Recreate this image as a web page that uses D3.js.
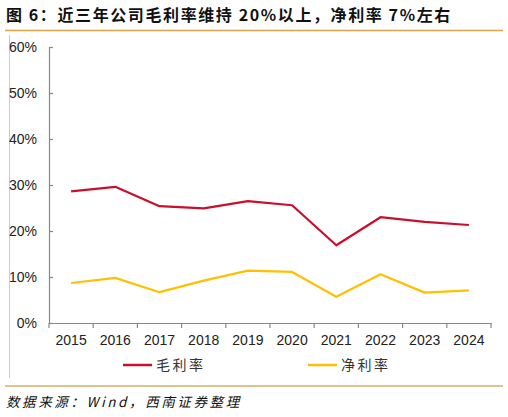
<!DOCTYPE html>
<html>
<head>
<meta charset="utf-8">
<script src="https://cdn.jsdelivr.net/npm/d3@7"></script>
<style>
  body { margin: 0; background: #fff; }
  svg { display: block; }
</style>
</head>
<body>
<svg id="chart" width="508" height="417"></svg>
<script>
// data
var years = ["2015", "2016", "2017", "2018", "2019", "2020", "2021", "2022", "2023", "2024"];
var grossMargin = [28.6, 29.6, 25.4, 24.9, 26.5, 25.6, 16.9, 23.0, 22.0, 21.3];
var netMargin = [8.7, 9.8, 6.7, 9.2, 11.4, 11.1, 5.7, 10.6, 6.6, 7.1];
var yTicks = [0, 10, 20, 30, 40, 50, 60];
var seriesNames = ["毛利率", "净利率"];

var svg = d3.select("#chart");
var cjk = "'Noto Sans CJK SC', sans-serif";

var margin = { top: 47, right: 17, bottom: 94, left: 49 };
var width = 508 - margin.left - margin.right;
var height = 417 - margin.top - margin.bottom;

// title + rules
svg.append("text")
    .attr("x", 6).attr("y", 21)
    .style("font-family", cjk).style("font-size", "16px").style("font-weight", "bold")
    .style("letter-spacing", "1.6px")
    .attr("fill", "#111")
    .text("图 6：近三年公司毛利率维持 20%以上，净利率 7%左右");

svg.append("line").attr("x1", 5).attr("x2", 503).attr("y1", 30.5).attr("y2", 30.5)
    .attr("stroke", "#DDA24C").attr("stroke-width", 1.5);
svg.append("line").attr("x1", 5).attr("x2", 503).attr("y1", 386).attr("y2", 386)
    .attr("stroke", "#D6AE68").attr("stroke-width", 1.5);
svg.append("line").attr("x1", 9.5).attr("x2", 9.5).attr("y1", 35).attr("y2", 378)
    .attr("stroke", "#ccc").attr("stroke-width", 1);

var xScale = d3.scaleBand().domain(years).range([0, width]);
var yScale = d3.scaleLinear().domain([0, 60]).range([height, 0]);

var g = svg.append("g").attr("transform", "translate(" + margin.left + "," + margin.top + ")");

// axes
var xAxis = g.append("g")
    .attr("transform", "translate(0," + height + ")")
    .call(d3.axisBottom(xScale).tickSize(0).tickPadding(12));
xAxis.select(".domain").attr("stroke", "#888").attr("stroke-width", 1.2);
xAxis.selectAll("text").style("font-family", "Arial, 'Liberation Sans', sans-serif")
    .style("font-size", "14px").attr("fill", "#222");
// tick marks sit between the bands
g.append("g").selectAll("line")
    .data(years.concat(["end"]))
    .join("line")
    .attr("x1", (d, i) => i * xScale.bandwidth())
    .attr("x2", (d, i) => i * xScale.bandwidth())
    .attr("y1", height).attr("y2", height + 5)
    .attr("stroke", "#888").attr("stroke-width", 1.2);

var yAxis = g.append("g")
    .call(d3.axisLeft(yScale).tickValues(yTicks).tickSize(-4).tickPadding(12).tickFormat(d => d + "%"));
yAxis.select(".domain").attr("stroke", "#888").attr("stroke-width", 1.2);
yAxis.selectAll(".tick line").attr("stroke", "#888").attr("stroke-width", 1.2);
yAxis.selectAll("text").style("font-family", "'Liberation Sans Narrow', Arial, sans-serif")
    .style("font-size", "14px").attr("fill", "#222");

// lines
var colors = ["#C8102E", "#FFC000"];
var line = d3.line()
    .x((d, i) => xScale(years[i]) + xScale.bandwidth() / 2)
    .y(d => yScale(d));

[grossMargin, netMargin].forEach(function(s, k) {
    g.append("path")
        .datum(s)
        .attr("fill", "none")
        .attr("stroke", colors[k])
        .attr("stroke-width", 2.2)
        .attr("stroke-linejoin", "round")
        .attr("d", line);
});

// legend
var legendX = [123, 308];
var legend = svg.append("g").selectAll("g")
    .data(seriesNames)
    .join("g")
    .attr("transform", (d, i) => "translate(" + legendX[i] + ",365)");
legend.append("line").attr("x1", 0).attr("x2", 29).attr("y1", 0).attr("y2", 0)
    .attr("stroke", (d, i) => colors[i]).attr("stroke-width", 2.5);
legend.append("text").attr("x", 33).attr("y", 5)
    .style("font-family", cjk).style("font-size", "14px").style("letter-spacing", "2.5px")
    .attr("fill", "#333")
    .text(d => d);

// source
svg.append("text")
    .attr("x", 6).attr("y", 407)
    .style("font-family", cjk).style("font-size", "13.5px").style("font-style", "italic")
    .style("letter-spacing", "2.6px")
    .attr("fill", "#111")
    .text("数据来源：Wind，西南证券整理");
</script>
</body>
</html>
